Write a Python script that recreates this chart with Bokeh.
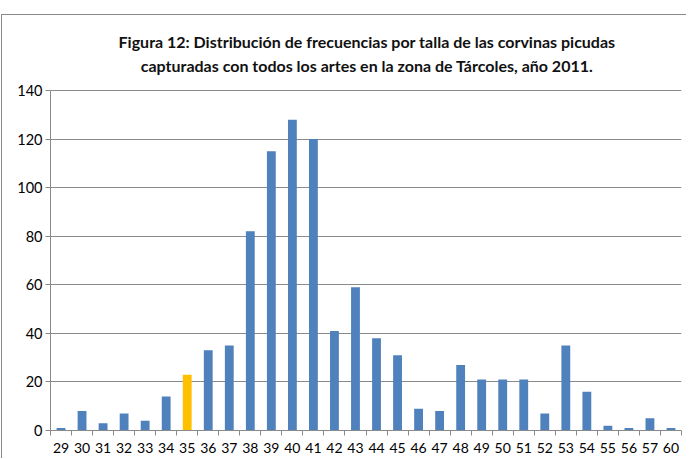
from bokeh.plotting import figure
from bokeh.models import FixedTicker, Label, Range1d, InlineStyleSheet
from bokeh.embed import file_html
from bokeh.resources import INLINE

# ---- data ----
tallas = ["29", "30", "31", "32", "33", "34", "35", "36", "37", "38", "39", "40",
          "41", "42", "43", "44", "45", "46", "47", "48", "49", "50", "51", "52",
          "53", "54", "55", "56", "57", "60"]
frecuencias = [1, 8, 3, 7, 4, 14, 23, 33, 35, 82, 115, 128, 120, 41, 59, 38, 31,
               9, 8, 27, 21, 21, 21, 7, 35, 16, 2, 1, 5, 1]
y_ticks = [0, 20, 40, 60, 80, 100, 120, 140]
y_max = 140
destacada = "35"
titulo_1 = "Figura 12: Distribución de frecuencias por talla de las corvinas picudas"
titulo_2 = "capturadas con todos los artes en la zona de Tárcoles, año 2011."

# ---- style / layout ----
BLUE = "#4F81BD"
YELLOW = "#FFC000"
GRAY = "#8a8a8a"
FONT = "Lato"
H = 458                 # canvas height
AXIS_TOP_PX = 90        # canvas pixel of the value y_max
FRAME_BOTTOM_PX = 430   # canvas pixel of the value 0

idx = list(range(len(tallas)))
colors = [YELLOW if t == destacada else BLUE for t in tallas]

border_css = InlineStyleSheet(css="""
:host { position: relative; }
:host::after {
  content: ""; position: absolute; left: 1px; top: 14px; right: 0; bottom: 0;
  border-left: 1px solid #8a8a8a; border-top: 1px solid #8a8a8a;
  pointer-events: none;
}
""")

# the plot frame reaches the top of the canvas so the title lines can live inside it
y_end = y_max * FRAME_BOTTOM_PX / (FRAME_BOTTOM_PX - AXIS_TOP_PX)
p = figure(width=686, height=H, output_backend="svg", toolbar_location=None,
           x_range=Range1d(-0.5, len(tallas) - 0.5), y_range=Range1d(0, y_end),
           min_border_left=50, min_border_right=5, min_border_top=0,
           min_border_bottom=H - FRAME_BOTTOM_PX, title=None, stylesheets=[border_css])
p.outline_line_color = None
p.background_fill_color = "white"
p.border_fill_color = "white"

# two centred title lines (screen units are measured from the frame's bottom-left)
for txt, yy in [(titulo_1, FRAME_BOTTOM_PX - 41), (titulo_2, FRAME_BOTTOM_PX - 65)]:
    p.add_layout(Label(x=316.5, y=yy, x_units="screen", y_units="screen", text=txt,
                       text_align="center", text_baseline="middle",
                       text_font=FONT, text_font_size="16px", text_font_style="bold",
                       text_color="#111111"))

p.vbar(x=idx, top=frecuencias, width=0.42, color=colors, line_color=None)

# x axis: labels at category centres, ticks between categories
xa = p.xaxis[0]
xa.ticker = FixedTicker(ticks=idx, minor_ticks=[i - 0.5 for i in idx] + [len(idx) - 0.5])
xa.major_label_overrides = {i: t for i, t in zip(idx, tallas)}
xa.major_tick_out = 0
xa.major_tick_in = 0
xa.minor_tick_out = 5
xa.minor_tick_in = 0
xa.minor_tick_line_color = GRAY
xa.axis_line_color = GRAY
xa.major_label_text_font = FONT
xa.major_label_text_font_size = "14px"
xa.major_label_text_color = "#000000"
xa.major_label_standoff = 7

ya = p.yaxis[0]
ya.ticker = FixedTicker(ticks=y_ticks)
ya.bounds = (0, y_max)
ya.major_tick_out = 5
ya.major_tick_in = 0
ya.minor_tick_out = 0
ya.major_tick_line_color = GRAY
ya.axis_line_color = GRAY
ya.major_label_text_font = FONT
ya.major_label_text_font_size = "14.5px"
ya.major_label_text_color = "#000000"
ya.major_label_standoff = 3

p.xgrid.grid_line_color = None
p.ygrid.grid_line_color = GRAY
p.ygrid.ticker = FixedTicker(ticks=y_ticks)

open("out.html", "w").write(file_html(p, INLINE))
